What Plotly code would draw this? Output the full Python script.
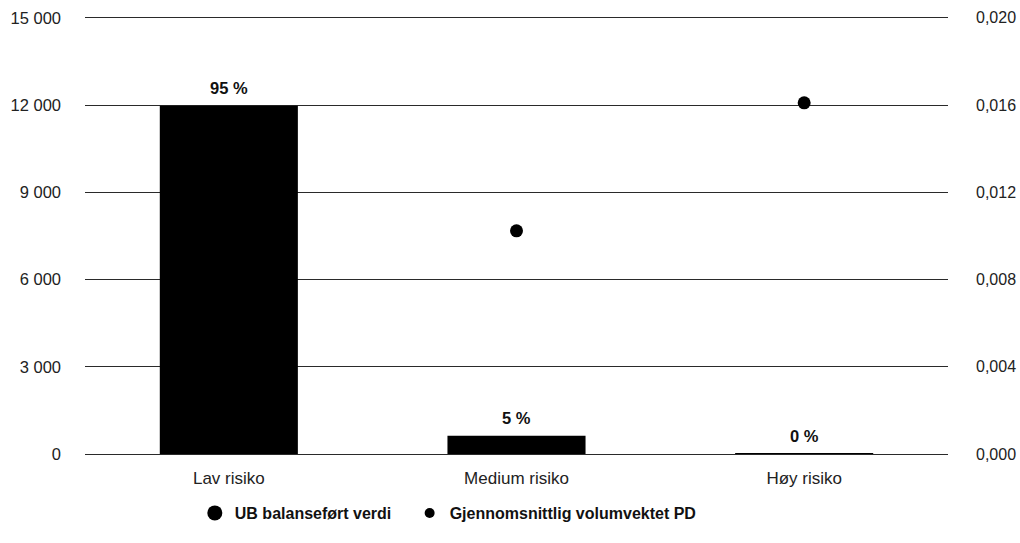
import plotly.graph_objects as go

categories = ["Lav risiko", "Medium risiko", "Høy risiko"]
ub_values = [11970, 630, 15]
share_labels = ["95 %", "5 %", "0 %"]
pd_values = [None, 0.01023, 0.0161]

left_ticks = [0, 3000, 6000, 9000, 12000, 15000]
right_ticks = [0, 0.004, 0.008, 0.012, 0.016, 0.020]

FONT = "Liberation Sans, Arial, sans-serif"
TOP = 15060  # small headroom so the top gridline is drawn
NB = "\u00a0"

fig = go.Figure()

fig.add_trace(go.Bar(
    x=categories, y=ub_values, name="UB balanseført verdi",
    marker=dict(color="#000000", line=dict(width=0)),
    width=0.48, showlegend=False, yaxis="y",
))

fig.add_trace(go.Scatter(
    x=categories, y=pd_values, mode="markers", name="Gjennomsnittlig volumvektet PD",
    marker=dict(color="#000000", size=13), showlegend=False, yaxis="y2",
))

# bar share labels
for c, v, t in zip(categories, ub_values, share_labels):
    fig.add_annotation(
        x=c, y=v, xref="x", yref="y", text=t, showarrow=False,
        yshift=18, font=dict(family=FONT, size=16.5, color="#111111", weight="bold"),
    )

# legend entries
fig.add_trace(go.Scatter(
    x=[None], y=[None], mode="markers", name="UB balanseført verdi" + NB * 3,
    marker=dict(color="#000000", size=15), yaxis="y",
))
fig.add_trace(go.Scatter(
    x=[None], y=[None], mode="markers", name="Gjennomsnittlig volumvektet PD",
    marker=dict(color="#000000", size=10), yaxis="y",
))

fig.update_layout(
    width=1020, height=543,
    margin=dict(l=85, r=72, t=16, b=89),
    paper_bgcolor="white", plot_bgcolor="white",
    separators=", ",
    font=dict(family=FONT, size=16, color="#222222"),
    xaxis=dict(
        showgrid=False, showline=False, zeroline=False, automargin=False,
        ticks="", tickfont=dict(size=17, color="#222222"),
        ticklabelstandoff=12,
        range=[-0.5, 2.5],
    ),
    yaxis=dict(
        range=[0, TOP], tickvals=left_ticks, separatethousands=True,
        tickformat=",d", automargin=False,
        showgrid=True, gridcolor="#2a2a2a", gridwidth=1,
        zeroline=True, zerolinecolor="#2a2a2a", zerolinewidth=1,
        showline=False, ticks="", ticklabelstandoff=23,
        tickfont=dict(size=16.5, color="#222222"),
    ),
    yaxis2=dict(
        overlaying="y", side="right", automargin=False,
        range=[0, 0.02 * TOP / 15000], tickvals=right_ticks, tickformat=".3f",
        showgrid=False, zeroline=False, showline=False, ticks="",
        ticklabelstandoff=27,
        tickfont=dict(size=16, color="#222222"),
    ),
    legend=dict(
        orientation="h", xref="container", x=0.191, xanchor="left",
        yref="container", y=0.0552, yanchor="middle",
        font=dict(family=FONT, size=16, color="#111111", weight="bold"),
        itemsizing="trace", traceorder="normal",
    ),
)

fig.write_html(
    "out.html",
    config={"displayModeBar": False},
    post_script="document.body.style.margin='0';document.body.style.overflow='hidden';",
)
